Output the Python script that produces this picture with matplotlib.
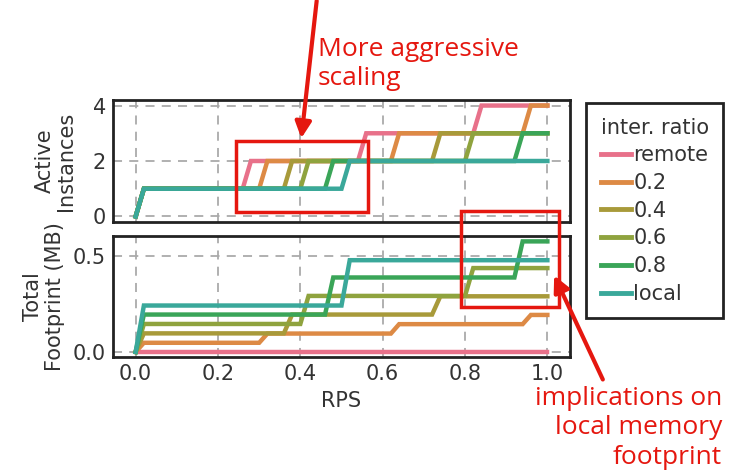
import matplotlib
matplotlib.use("Agg")
import matplotlib.pyplot as plt
from matplotlib.patches import Rectangle, FancyArrowPatch

# series labels and colours
labels = ["remote", "0.2", "0.4", "0.6", "0.8", "local"]
colors = ["#e8718a", "#dd8a45", "#a89a3a", "#8fa33e", "#3aa558", "#3aa89a"]

# breakpoints (RPS) for each series
rps = [
    [0, 0.02, 0.26, 0.28, 0.54, 0.56, 0.82, 0.84, 1.0],
    [0, 0.02, 0.30, 0.32, 0.62, 0.64, 0.94, 0.96, 1.0],
    [0, 0.02, 0.36, 0.38, 0.72, 0.74, 1.0],
    [0, 0.02, 0.40, 0.42, 0.80, 0.82, 1.0],
    [0, 0.02, 0.46, 0.48, 0.92, 0.94, 1.0],
    [0, 0.02, 0.50, 0.52, 1.0],
]
instances = [
    [0, 1, 1, 2, 2, 3, 3, 4, 4],
    [0, 1, 1, 2, 2, 3, 3, 4, 4],
    [0, 1, 1, 2, 2, 3, 3],
    [0, 1, 1, 2, 2, 3, 3],
    [0, 1, 1, 2, 2, 3, 3],
    [0, 1, 1, 2, 2],
]
footprint = [
    [0, 0, 0, 0, 0, 0, 0, 0, 0],
    [0, 0.048, 0.048, 0.096, 0.096, 0.145, 0.145, 0.193, 0.193],
    [0, 0.097, 0.097, 0.195, 0.195, 0.29, 0.29],
    [0, 0.146, 0.146, 0.292, 0.292, 0.437, 0.437],
    [0, 0.195, 0.195, 0.388, 0.388, 0.576, 0.576],
    [0, 0.242, 0.242, 0.478, 0.478],
]

W, H = 738, 474
fig = plt.figure(figsize=(W / 100, H / 100), dpi=100)
fig.patch.set_facecolor("white")


def ax_at(left, top, right, bottom):
    return fig.add_axes([left / W, 1 - bottom / H, (right - left) / W, (bottom - top) / H])


ax1 = ax_at(113, 100, 570, 222)
ax2 = ax_at(113, 236, 570, 357)

for i in range(len(labels)):
    ax1.plot(rps[i], instances[i], color=colors[i], lw=3.2, label=labels[i], solid_joinstyle="miter")
    ax2.plot(rps[i], footprint[i], color=colors[i], lw=3.2, label=labels[i], solid_joinstyle="miter")

for ax in (ax1, ax2):
    ax.set_xlim(-0.055, 1.055)
    ax.set_xticks([0.0, 0.2, 0.4, 0.6, 0.8, 1.0])
    ax.grid(True, linestyle=(0, (5, 4)), color="#aaaaaa", lw=1.3)
    ax.set_axisbelow(True)
    ax.tick_params(length=0, labelsize=15, labelcolor="#333333", pad=5)
    for s in ax.spines.values():
        s.set_linewidth(2)
        s.set_color("#222222")

ax1.set_ylim(-0.2, 4.2)
ax1.set_yticks([0, 2, 4])
ax1.set_xticklabels([])
ax1.set_ylabel("Active\nInstances", fontsize=15, color="#333333", labelpad=12, linespacing=1.1)

ax2.set_ylim(-0.026, 0.604)
ax2.set_yticks([0.0, 0.5])
ax2.set_yticklabels(["0.0", "0.5"])
ax2.set_xticklabels(["0.0", "0.2", "0.4", "0.6", "0.8", "1.0"])
ax2.set_xlabel("RPS", fontsize=15, color="#333333", labelpad=5)
ax2.set_ylabel("Total\nFootprint (MB)", fontsize=15, color="#333333", labelpad=6, linespacing=1.1)

leg = ax1.legend(title="inter. ratio", loc="upper left", bbox_to_anchor=(586 / W, 1 - 103 / H),
                 bbox_transform=fig.transFigure, fontsize=15, title_fontsize=15,
                 handlelength=1.45, handletextpad=0.1, labelspacing=0.37, borderpad=0.7,
                 borderaxespad=0, fancybox=False, framealpha=1)
leg.get_frame().set_edgecolor("#222222")
leg.get_frame().set_linewidth(2)
for t in leg.get_texts():
    t.set_color("#333333")
leg.get_title().set_color("#333333")
for h in leg.get_lines():
    h.set_linewidth(3.5)

# red annotation overlay (figure pixels, top-left origin)
red = "#e5170f"


def P(x, y):
    return (x / W, 1 - y / H)


for (x0, y0, x1, y1) in [(236, 141, 368, 212), (461, 211, 559, 307)]:
    fig.add_artist(Rectangle(P(x0, y1), (x1 - x0) / W, (y1 - y0) / H, transform=fig.transFigure,
                             fill=False, edgecolor=red, lw=2.5))

fig.add_artist(FancyArrowPatch(P(317, -2), P(301, 141), transform=fig.transFigure,
                               arrowstyle="-|>", mutation_scale=24, color=red, lw=3))
fig.add_artist(FancyArrowPatch(P(604, 382), P(553, 273), transform=fig.transFigure,
                               arrowstyle="-|>", mutation_scale=24, color=red, lw=3))

fig.text(318 / W, 1 - 64 / H, "More aggressive\nscaling", color=red, fontsize=19,
         family="Open Sans", ha="left", va="center", linespacing=1.2)
fig.text(722 / W, 1 - 428 / H, "implications on\nlocal memory\nfootprint", color=red,
         fontsize=19, family="Open Sans", ha="right", va="center", linespacing=1.25,
         multialignment="right")

fig.savefig("out.png", dpi=100)
